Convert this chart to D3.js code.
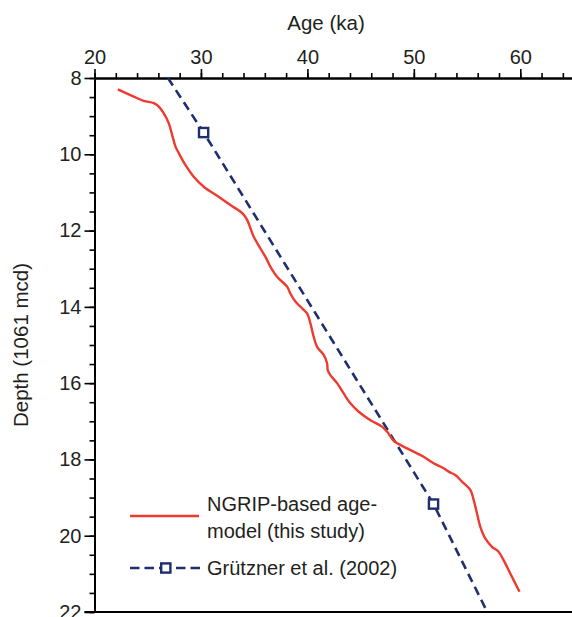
<!DOCTYPE html>
<html>
<head>
<meta charset="utf-8">
<script src="https://cdn.jsdelivr.net/npm/d3@7"></script>
<style>
  html, body { margin: 0; padding: 0; background: #fff; }
  svg { display: block; font-family: "Liberation Sans", Arial, Helvetica, sans-serif; }
</style>
</head>
<body>
<svg id="chart" width="572" height="617"></svg>
<script>
// NGRIP-based age model: depth (1061 mcd) against age (ka)
const ngripDepth = [8.30, 8.49, 8.60, 8.66, 8.75, 8.93, 9.19, 9.49, 9.80, 9.97,
  10.28, 10.59, 10.85, 11.09, 11.33, 11.56, 11.72, 11.94, 12.16, 12.47,
  12.69, 12.95, 13.21, 13.47, 13.65, 13.86, 14.04, 14.17, 14.43, 14.78,
  15.05, 15.26, 15.48, 15.66, 15.79, 16.00, 16.27, 16.53, 16.75, 16.97,
  17.14, 17.27, 17.51, 17.71, 17.93, 18.10, 18.23, 18.32, 18.41, 18.58,
  18.80, 19.06, 19.41, 19.76, 20.07, 20.29, 20.42, 20.64, 20.99, 21.25, 21.47];
const ngripAge = [22.19, 23.69, 24.63, 25.57, 26.04, 26.51, 26.98, 27.29, 27.61, 27.92,
  28.54, 29.32, 30.26, 31.52, 32.77, 33.95, 34.34, 34.65, 34.96, 35.59,
  36.06, 36.53, 37.15, 38.09, 38.40, 38.87, 39.50, 39.97, 40.28, 40.59,
  40.91, 41.53, 41.85, 41.91, 42.16, 42.79, 43.41, 44.04, 44.82, 45.92,
  47.01, 47.48, 48.11, 49.36, 50.92, 51.86, 52.80, 53.27, 53.90, 54.52,
  55.31, 55.62, 55.93, 56.24, 56.71, 57.34, 57.96, 58.43, 59.06, 59.53, 59.93];

// Grützner et al. (2002) age model line and its tie points
const gruetznerDepth = [8.0, 9.43, 19.17, 22.0];
const gruetznerAge = [26.9, 30.25, 51.85, 56.9];
const tieDepth = [9.43, 19.17];
const tieAge = [30.25, 51.85];

// Axis ticks
const ageMajorTicks = [20, 30, 40, 50, 60];
const ageMinorTicks = [20, 22, 24, 26, 28, 30, 32, 34, 36, 38, 40, 42, 44, 46, 48, 50, 52, 54, 56, 58, 60, 62, 64];
const depthMajorTicks = [8, 10, 12, 14, 16, 18, 20, 22];
const depthMinorTicks = [8, 8.5, 9, 9.5, 10, 10.5, 11, 11.5, 12, 12.5, 13, 13.5, 14, 14.5, 15, 15.5,
  16, 16.5, 17, 17.5, 18, 18.5, 19, 19.5, 20, 20.5, 21, 21.5, 22];

// Legend entries
const legendLabels = [["NGRIP-based age-", "model (this study)"], ["Grützner et al. (2002)"]];

const RED = "#ee3a2f";
const NAVY = "#1f2f6e";
const INK = "#231f20";

const svg = d3.select("#chart");
const x = d3.scaleLinear().domain([20, 65]).range([94.5, 573.5]);
const y = d3.scaleLinear().domain([8, 22]).range([78, 612]);

// ---- axes ----
const styleAxis = g => {
  g.selectAll("path.domain").attr("stroke", "#000").attr("stroke-width", 2);
  g.selectAll(".tick line").attr("stroke", "#000").attr("stroke-width", 1.6);
  g.selectAll(".tick text").attr("fill", INK).style("font-size", "20px")
    .style("font-family", "'Liberation Sans', Arial, sans-serif");
};

// top age axis
svg.append("g").attr("transform", `translate(0,${y(8)})`)
  .call(d3.axisTop(x).tickValues(ageMinorTicks).tickSize(5).tickSizeOuter(0).tickFormat(""))
  .call(styleAxis);
svg.append("g").attr("transform", `translate(0,${y(8)})`)
  .call(d3.axisTop(x).tickValues(ageMajorTicks).tickSize(9).tickSizeOuter(0).tickPadding(5).tickFormat(d3.format("d")))
  .call(styleAxis);

// left depth axis
svg.append("g").attr("transform", `translate(${x(20)},0)`)
  .call(d3.axisLeft(y).tickValues(depthMinorTicks).tickSize(5).tickSizeOuter(0).tickFormat(""))
  .call(styleAxis);
svg.append("g").attr("transform", `translate(${x(20)},0)`)
  .call(d3.axisLeft(y).tickValues(depthMajorTicks).tickSize(10).tickSizeOuter(0).tickPadding(3).tickFormat(d3.format("d")))
  .call(styleAxis);

// bottom frame line
svg.append("line")
  .attr("x1", x(20) - 10).attr("x2", x(65))
  .attr("y1", y(22)).attr("y2", y(22))
  .attr("stroke", "#000").attr("stroke-width", 2);

// axis titles
svg.append("text")
  .attr("x", 326).attr("y", 30)
  .attr("text-anchor", "middle")
  .attr("fill", INK).style("font-size", "20.5px")
  .text("Age (ka)");
svg.append("text")
  .attr("transform", `translate(28,${(y(8) + y(22)) / 2}) rotate(-90)`)
  .attr("text-anchor", "middle")
  .attr("fill", INK).style("font-size", "20.5px")
  .text("Depth (1061 mcd)");

// ---- series ----
const ngrip = ngripDepth.map((d, i) => ({ depth: d, age: ngripAge[i] }));
const gruetzner = gruetznerDepth.map((d, i) => ({ depth: d, age: gruetznerAge[i] }));
const ties = tieDepth.map((d, i) => ({ depth: d, age: tieAge[i] }));

const line = d3.line().x(d => x(d.age)).y(d => y(d.depth));

svg.append("path")
  .datum(gruetzner)
  .attr("d", line)
  .attr("fill", "none").attr("stroke", NAVY).attr("stroke-width", 2.6)
  .attr("stroke-dasharray", "9,5.5");

svg.append("path")
  .datum(ngrip)
  .attr("d", line.curve(d3.curveCatmullRom.alpha(0.5)))
  .attr("fill", "none").attr("stroke", RED).attr("stroke-width", 2.4)
  .attr("stroke-linejoin", "round").attr("stroke-linecap", "butt");

svg.selectAll("rect.tie")
  .data(ties).enter().append("rect")
  .attr("class", "tie")
  .attr("x", d => x(d.age) - 4.6).attr("y", d => y(d.depth) - 4.6)
  .attr("width", 9.2).attr("height", 9.2)
  .attr("fill", "#fff").attr("stroke", NAVY).attr("stroke-width", 2.4);

// ---- legend ----
const legend = svg.append("g");
legend.append("line")
  .attr("x1", 130).attr("x2", 199).attr("y1", 516).attr("y2", 516)
  .attr("stroke", RED).attr("stroke-width", 2.4);
legend.append("text")
  .attr("x", 207).attr("y", 510.5)
  .attr("fill", INK).style("font-size", "20px")
  .selectAll("tspan").data(legendLabels[0]).enter().append("tspan")
  .attr("x", 207).attr("dy", (d, i) => i === 0 ? 0 : 27.5)
  .text(d => d);

legend.append("line")
  .attr("x1", 130).attr("x2", 160).attr("y1", 568).attr("y2", 568)
  .attr("stroke", NAVY).attr("stroke-width", 2.6).attr("stroke-dasharray", "9.5,5");
legend.append("line")
  .attr("x1", 176).attr("x2", 200).attr("y1", 568).attr("y2", 568)
  .attr("stroke", NAVY).attr("stroke-width", 2.6).attr("stroke-dasharray", "9.5,5");
legend.append("rect")
  .attr("x", 161.2).attr("y", 563.4).attr("width", 9.2).attr("height", 9.2)
  .attr("fill", "#fff").attr("stroke", NAVY).attr("stroke-width", 2.4);
legend.append("text")
  .attr("x", 207).attr("y", 575)
  .attr("fill", INK).style("font-size", "20px")
  .text(legendLabels[1][0]);
</script>
</body>
</html>
